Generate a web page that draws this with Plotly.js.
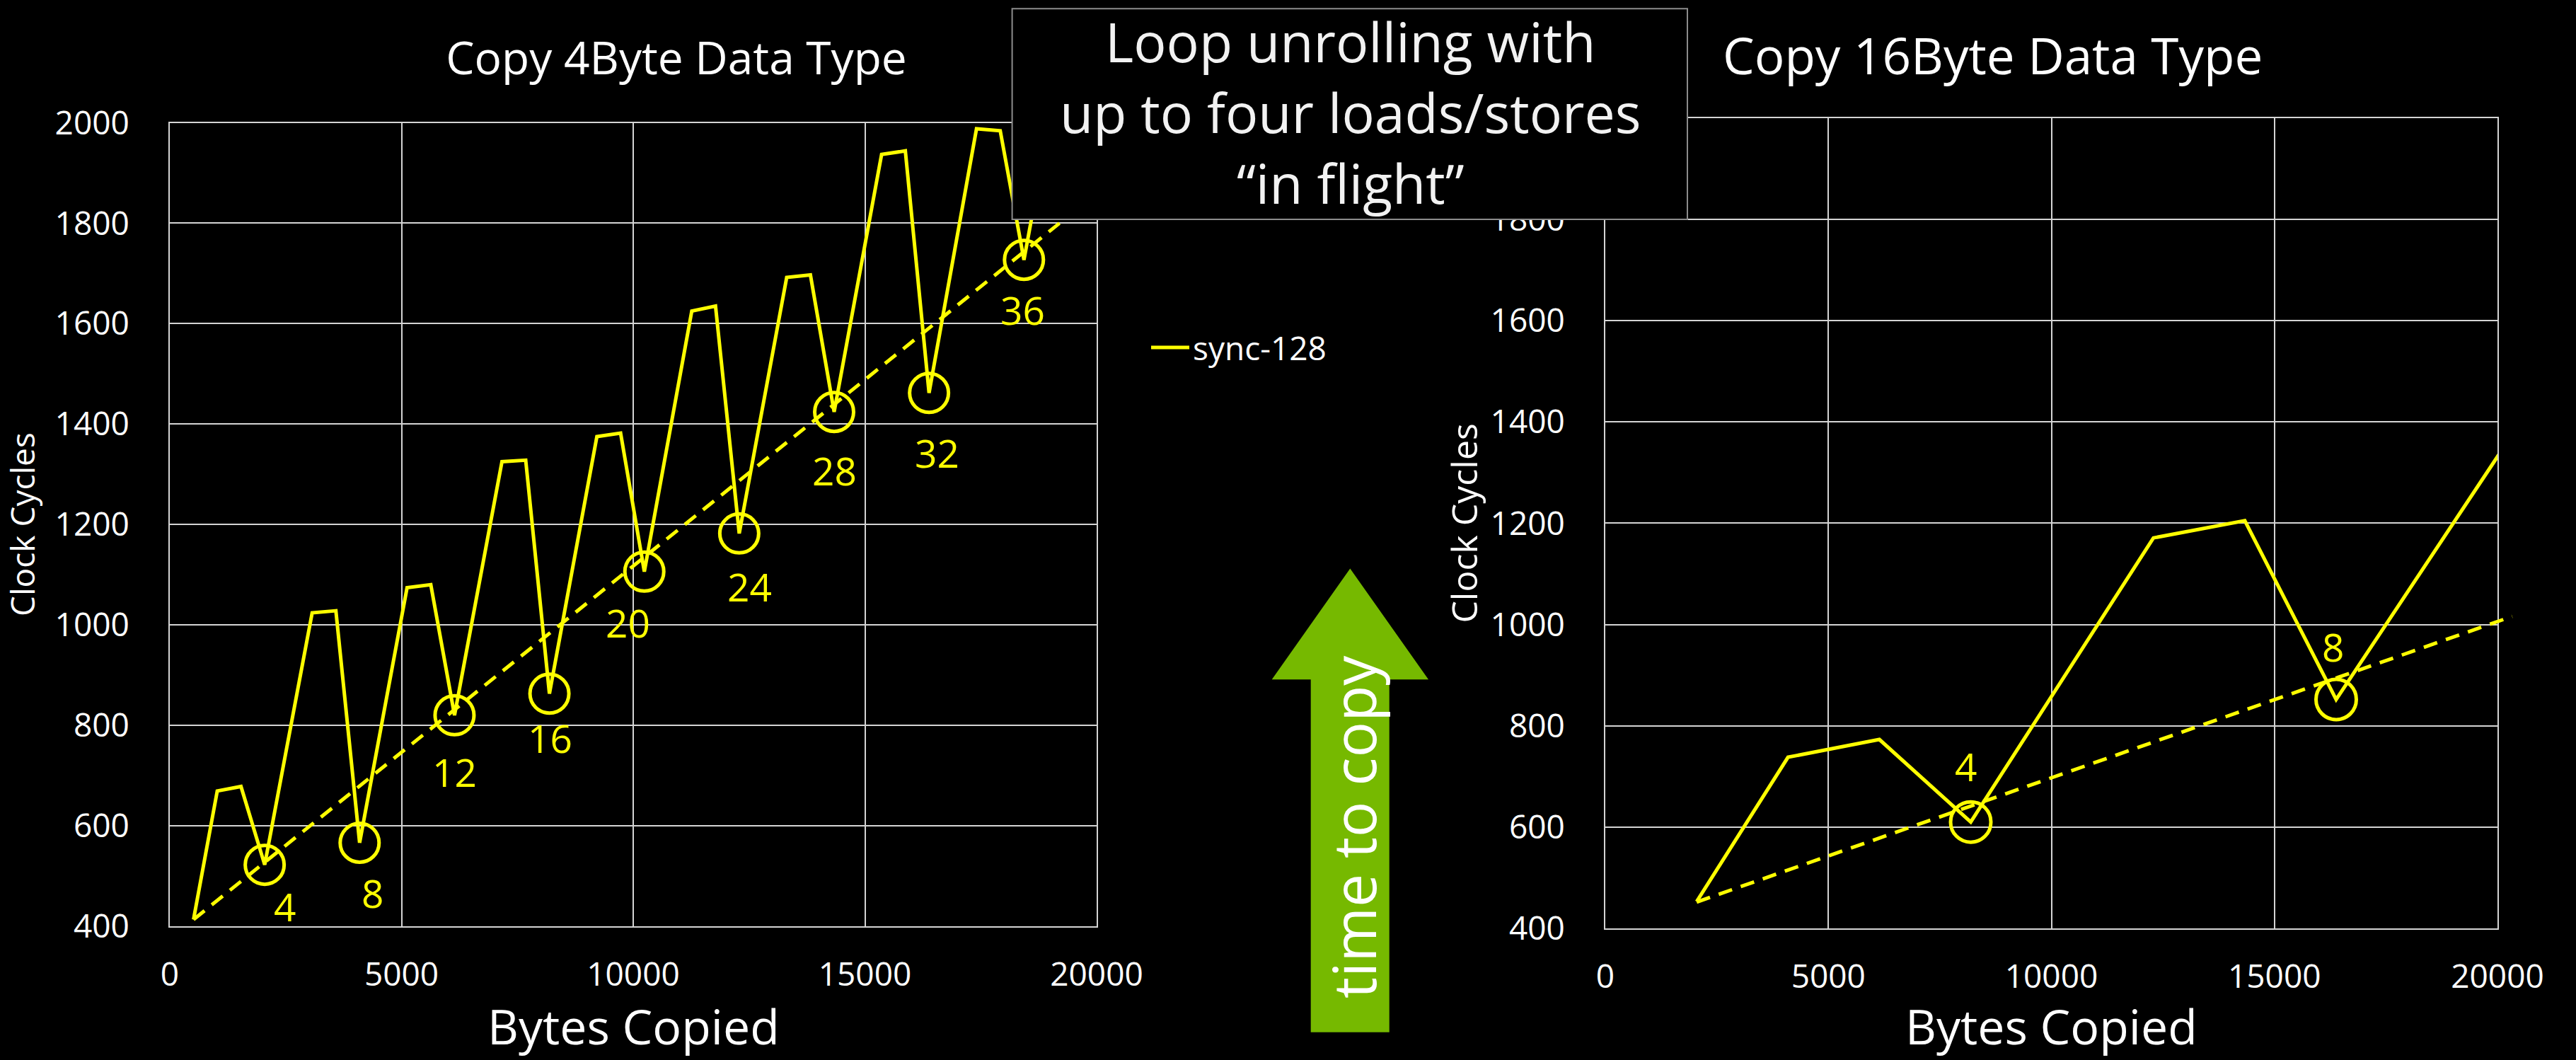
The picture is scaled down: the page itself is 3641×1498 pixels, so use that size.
<!DOCTYPE html>
<html>
<head>
<meta charset="utf-8">
<script src="https://cdn.plot.ly/plotly-3.0.1.min.js"></script>
<style>
  html, body { margin: 0; padding: 0; background: #000; }
  #chart { width: 3641px; height: 1498px; }
</style>
</head>
<body>
<div id="chart"></div>
<script>
// Copy of a 4-byte data type, sync-128: bytes copied vs. clock cycles
const bytes4 = [512, 1024, 1536, 2048, 3072, 3584, 4096, 5120, 5632, 6144,
                7168, 7680, 8192, 9216, 9728, 10240, 11264, 11776, 12288,
                13312, 13824, 14336, 15360, 15872, 16384, 17408, 17920, 18432, 19456];
const cycles4 = [413, 669, 678, 522, 1024, 1028, 566, 1074, 1080, 820,
                 1325, 1328, 863, 1375, 1382, 1106, 1625, 1635, 1182,
                 1692, 1697, 1424, 1937, 1944, 1462, 1988, 1984, 1727, 2240];
// unroll counts marked at every 2048-byte boundary
const marks4 = ['4', '8', '12', '16', '20', '24', '28', '32', '36'];
// guide line through the marked minima
const guideBytes4 = [512, 19200];
const guideCycles4 = [413, 1800];

// Copy of a 16-byte data type
const bytes16 = [2048, 4096, 6144, 8192, 12288, 14336, 16384, 20480];
const cycles16 = [453, 738, 773, 610, 1171, 1205, 852, 1395];
const marks16 = ['4', '8'];
const guideBytes16 = [2048, 20330];
const guideCycles16 = [452, 1016];

const xTicks = [0, 5000, 10000, 15000, 20000];
const yTicksLeft = [400, 600, 800, 1000, 1200, 1400, 1600, 1800, 2000];
const yTicksRight = [400, 600, 800, 1000, 1200, 1400, 1600, 1800];

// ---- page geometry (pixels) ----
const W = 3641, H = 1498;
const px = v => v / W;
const py = v => 1 - v / H;

const FONT = 'Open Sans, Noto Sans, sans-serif';
const YELLOW = '#ffff00';
const GRID = '#d4d4d4';

// boundary points get circled and labelled
function boundaryPoints(xs, ys, step) {
  const bx = [], by = [];
  xs.forEach((x, i) => { if (x % step === 0 && i > 0) { bx.push(x); by.push(ys[i]); } });
  return {x: bx, y: by};
}
const circ4 = boundaryPoints(bytes4, cycles4, 2048);
const circ16 = boundaryPoints(bytes16, cycles16, 8192);

// label offsets from each circled point (px; y positive = up)
const labelShift4 = [[28, -58], [18, -71], [0, -80], [1, -62], [-23, -72], [15, -75], [0, -82], [11, -84], [-2, -70]];
const labelShift16 = [[-7, 79], [-5, 75]];

const leftX = [px(240), px(1550)];
const leftY = [py(1308.7), py(173.5)];
const rightX = [px(2269), px(3530)];
const rightY = [py(1312), py(166.8)];
// wider, invisible frame sharing the right chart's scale so its guide can run past the edge
const guideX = [rightX[0], px(3600)];
const guideMax = 20000 * (guideX[1] - guideX[0]) / (rightX[1] - rightX[0]);

const traces = [
  {x: bytes4, y: cycles4, xaxis: 'x', yaxis: 'y', mode: 'lines', name: 'sync-128',
   line: {color: YELLOW, width: 5}, showlegend: true},
  {x: guideBytes4, y: guideCycles4, xaxis: 'x', yaxis: 'y', mode: 'lines',
   line: {color: YELLOW, width: 5, dash: '20px,13px'}, showlegend: false},
  {x: circ4.x, y: circ4.y, xaxis: 'x', yaxis: 'y', mode: 'markers', cliponaxis: false,
   marker: {symbol: 'circle-open', size: 55, color: YELLOW, line: {width: 5, color: YELLOW}},
   showlegend: false},
  {x: bytes16, y: cycles16, xaxis: 'x2', yaxis: 'y2', mode: 'lines',
   line: {color: YELLOW, width: 5}, showlegend: false},
  {x: guideBytes16, y: guideCycles16, xaxis: 'x3', yaxis: 'y3', mode: 'lines',
   line: {color: YELLOW, width: 5, dash: '20px,13px'}, showlegend: false},
  {x: circ16.x, y: circ16.y, xaxis: 'x2', yaxis: 'y2', mode: 'markers', cliponaxis: false,
   marker: {symbol: 'circle-open', size: 57, color: YELLOW, line: {width: 5, color: YELLOW}},
   showlegend: false}
];

function axisX(domain, anchor) {
  return {
    domain: domain, anchor: anchor, range: [0, 20000], tickvals: xTicks, tickformat: 'd',
    showgrid: true, gridcolor: GRID, gridwidth: 2, zeroline: false,
    showline: true, linecolor: GRID, linewidth: 2, mirror: true,
    ticks: '', ticklabelstandoff: 27,
    tickfont: {family: FONT, size: 46, color: '#ffffff'},
    fixedrange: true
  };
}
function axisY(domain, anchor, ticks, titleSize, standoff) {
  return {
    domain: domain, anchor: anchor, range: [400, 2000], tickvals: ticks, tickformat: 'd',
    showgrid: true, gridcolor: GRID, gridwidth: 2, zeroline: false,
    showline: true, linecolor: GRID, linewidth: 2, mirror: true,
    ticks: '', ticklabelstandoff: 46,
    tickfont: {family: FONT, size: 46, color: '#ffffff'},
    title: {text: 'Clock Cycles', font: {family: FONT, size: titleSize, color: '#ffffff'}, standoff: standoff},
    fixedrange: true
  };
}

const annotations = [];
marks4.forEach((t, i) => annotations.push({
  xref: 'x', yref: 'y', x: circ4.x[i], y: circ4.y[i], text: t, showarrow: false,
  xshift: labelShift4[i][0], yshift: labelShift4[i][1], xanchor: 'center', yanchor: 'middle',
  font: {family: FONT, size: 55, color: YELLOW}
}));
marks16.forEach((t, i) => annotations.push({
  xref: 'x2', yref: 'y2', x: circ16.x[i], y: circ16.y[i], text: t, showarrow: false,
  xshift: labelShift16[i][0], yshift: labelShift16[i][1], xanchor: 'center', yanchor: 'middle',
  font: {family: FONT, size: 55, color: YELLOW}
}));
// x-axis titles under each chart
[leftX, rightX].forEach(dom => annotations.push({
  xref: 'paper', yref: 'paper', x: (dom[0] + dom[1]) / 2, y: py(1449), text: 'Bytes Copied',
  showarrow: false, xanchor: 'center', yanchor: 'middle',
  font: {family: FONT, size: 68, color: '#ffffff'}
}));
// second chart title
annotations.push({xref: 'paper', yref: 'paper', x: px(2816), y: py(78), text: 'Copy 16Byte Data Type',
  showarrow: false, xanchor: 'center', yanchor: 'middle', font: {family: FONT, size: 71, color: '#ffffff'}});
// call-out box text
annotations.push({xref: 'paper', yref: 'paper', x: px(1908), y: py(158),
  text: 'Loop unrolling with<br>up to four loads/stores<br>\u201Cin flight\u201D', showarrow: false,
  xanchor: 'center', yanchor: 'middle', align: 'center',
  font: {family: FONT, size: 77, color: '#f2f2f2'}});
// label on the arrow
annotations.push({xref: 'paper', yref: 'paper', x: px(1912), y: py(1169), text: 'time to copy',
  showarrow: false, textangle: -90, xanchor: 'center', yanchor: 'middle',
  font: {family: FONT, size: 84, color: '#ffffff'}});

// up arrow (paper coordinates)
const arrowPts = [[1908.3, 803.6], [2019, 960.2], [1963.7, 960.2], [1963.7, 1458.7],
                  [1852.7, 1458.7], [1852.7, 960.2], [1797.7, 960.2]];
const arrowPath = 'M' + arrowPts.map(p => px(p[0]).toFixed(6) + ',' + py(p[1]).toFixed(6)).join('L') + 'Z';

const shapes = [
  {type: 'path', xref: 'paper', yref: 'paper', path: arrowPath,
   fillcolor: '#76b900', line: {width: 0}, layer: 'above'},
  {type: 'rect', xref: 'paper', yref: 'paper', x0: px(1430.6), x1: px(2385), y0: py(310), y1: py(12.3),
   fillcolor: '#000000', line: {color: '#8c8c8c', width: 2}, layer: 'above'}
];

const layout = {
  width: W, height: H,
  margin: {l: 0, r: 0, t: 0, b: 0, pad: 0},
  paper_bgcolor: '#000000', plot_bgcolor: 'rgba(0,0,0,0)',
  font: {family: FONT, color: '#ffffff'},
  title: {text: 'Copy 4Byte Data Type', x: px(956), y: py(83), xanchor: 'center', yanchor: 'middle',
          xref: 'paper', yref: 'paper', font: {family: FONT, size: 64, color: '#ffffff'}},
  xaxis: axisX(leftX, 'y'),
  yaxis: axisY(leftY, 'x', yTicksLeft, 46, 20),
  xaxis2: axisX(rightX, 'y2'),
  yaxis2: axisY(rightY, 'x2', yTicksRight, 50, 2),
  xaxis3: {domain: guideX, anchor: 'y3', range: [0, guideMax], visible: false, fixedrange: true},
  yaxis3: {domain: rightY, anchor: 'x3', range: [400, 2000], visible: false, fixedrange: true},
  showlegend: true,
  legend: {x: px(1622), y: py(491), xanchor: 'left', yanchor: 'middle', itemwidth: 54,
           bgcolor: 'rgba(0,0,0,0)', font: {family: FONT, size: 46, color: '#ffffff'}},
  annotations: annotations,
  shapes: shapes
};

Plotly.newPlot('chart', traces, layout, {displayModeBar: false, staticPlot: true});
</script>
</body>
</html>
